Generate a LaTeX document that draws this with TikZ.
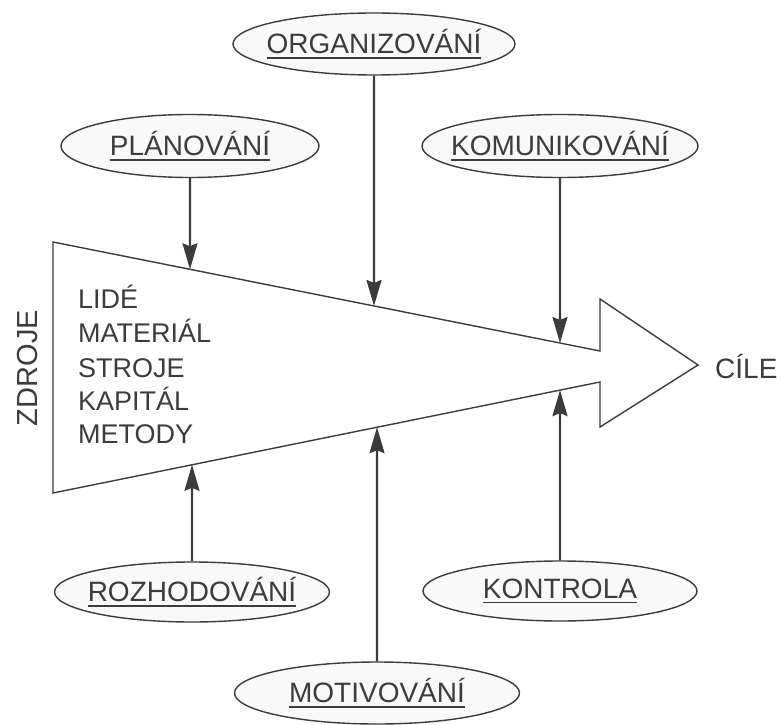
\documentclass[tikz,border=0pt]{standalone}
\usepackage{fontspec}
\setmainfont{Liberation Sans}
\usetikzlibrary{arrows.meta,shapes.geometric}
\definecolor{ink}{HTML}{3C3C3C}
% underlined caption: text with a rule a little below its baseline
\newcommand{\ulabel}[1]{\setbox0\hbox{#1}\rlap{\rule[-5pt]{\wd0}{1.6pt}}\box0}
\begin{document}
\begin{tikzpicture}[x=1pt,y=1pt,
  activity/.style={ellipse, draw=ink, line width=1.4pt, fill=gray!5, inner sep=0pt,
    text=ink, font=\fontsize{28}{32}\selectfont},
  feed/.style={draw=ink, line width=2.2pt, -{Stealth[length=26pt,width=15pt,inset=3pt]}},
  item/.style={anchor=base west, text=ink, inner sep=0pt, font=\fontsize{27}{30}\selectfont}]
\useasboundingbox (0,0) rectangle (783,724);

% the resources-to-goals arrow
\coordinate (tl)  at (53,482);
\coordinate (st)  at (600,373);
\coordinate (ht)  at (600,425);
\coordinate (tip) at (698,359);
\coordinate (hb)  at (600,297);
\coordinate (sb)  at (600,342);
\coordinate (bl)  at (53,231);
\draw[ink, line width=1.4pt, line join=miter]
  (tl) -- (st) -- (ht) -- (tip) -- (hb) -- (sb) -- (bl) -- cycle;

% resources listed inside the arrow
\node[item] (r1) at (78,416) {LIDÉ};
\node[item] (r2) at (78,382) {MATERIÁL};
\node[item] (r3) at (78,347) {STROJE};
\node[item] (r4) at (78,314) {KAPITÁL};
\node[item] (r5) at (78,281) {METODY};

\node[text=ink, rotate=90, inner sep=0pt, font=\fontsize{29}{32}\selectfont] (src) at (28,356) {ZDROJE};
\node[anchor=base west, text=ink, inner sep=0pt, font=\fontsize{28}{32}\selectfont] (goal) at (715,346) {CÍLE};

% management functions
\node[activity, minimum width=282pt, minimum height=62pt] (org) at (374,680) {\makebox[0pt]{\ulabel{ORGANIZOVÁNÍ}}};
\node[activity, minimum width=258pt, minimum height=63pt] (plan) at (190,578) {\makebox[0pt]{\ulabel{PLÁNOVÁNÍ}}};
\node[activity, minimum width=276pt, minimum height=63pt] (kom) at (560,578) {\makebox[0pt]{\ulabel{KOMUNIKOVÁNÍ}}};
\node[activity, minimum width=275pt, minimum height=60pt] (roz) at (192,132) {\makebox[0pt]{\ulabel{ROZHODOVÁNÍ}}};
\node[activity, minimum width=274pt, minimum height=60pt] (kon) at (560,133) {\makebox[0pt]{\ulabel{KONTROLA}}};
\node[activity, minimum width=285pt, minimum height=62pt] (mot) at (377,31) {\makebox[0pt]{\ulabel{MOTIVOVÁNÍ}}};

% influences on the arrow
\draw[feed] (plan.south) -- (intersection cs: first line={(tl)--(st)}, second line={(plan.south)--(plan.center)});
\draw[feed] (org.south) -- (intersection cs: first line={(tl)--(st)}, second line={(org.south)--(org.center)});
\draw[feed] (kom.south) -- (intersection cs: first line={(tl)--(st)}, second line={(kom.south)--(kom.center)});
\draw[feed] (roz.north) -- (intersection cs: first line={(bl)--(sb)}, second line={(roz.north)--(roz.center)});
\draw[feed] (mot.north) -- (intersection cs: first line={(bl)--(sb)}, second line={(mot.north)--(mot.center)});
\draw[feed] (kon.north) -- (intersection cs: first line={(bl)--(sb)}, second line={(kon.north)--(kon.center)});
\end{tikzpicture}
\end{document}
